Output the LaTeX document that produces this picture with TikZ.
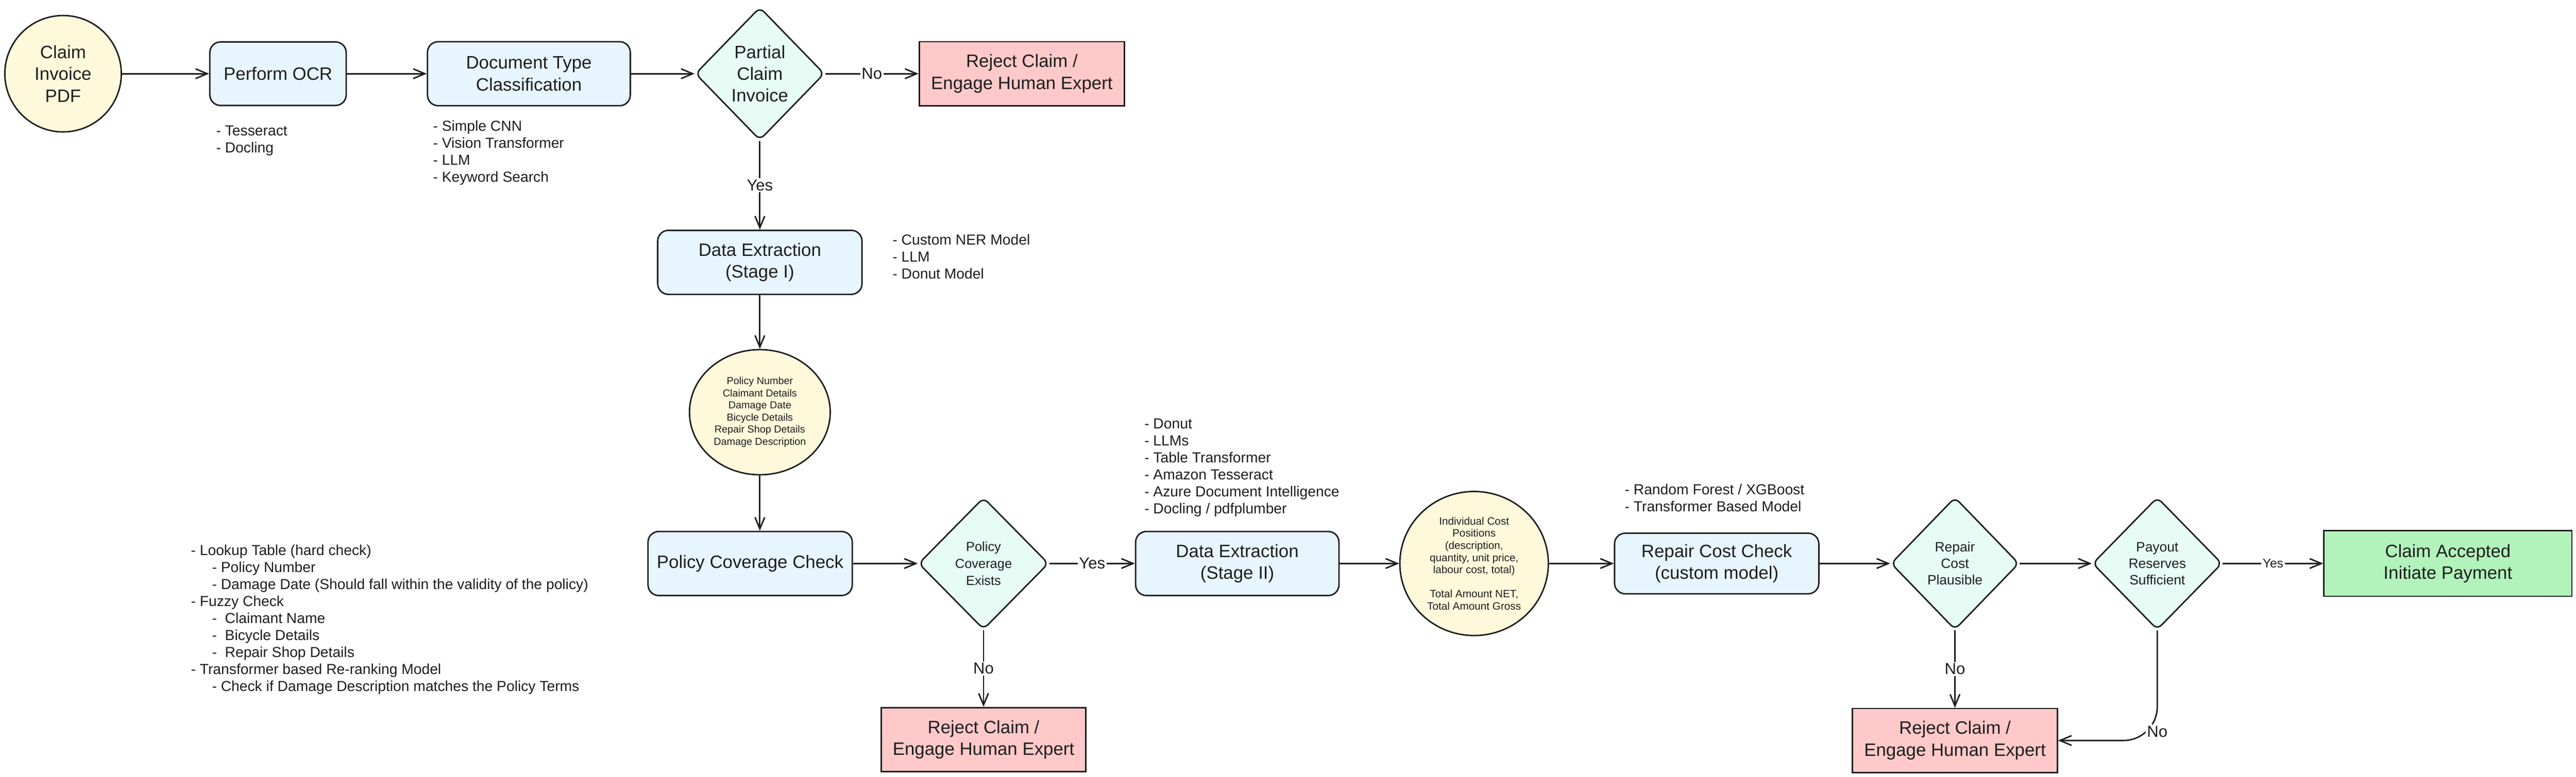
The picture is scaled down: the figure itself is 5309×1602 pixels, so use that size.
\documentclass[tikz,border=0pt]{standalone}
\usepackage{fontspec}
\setmainfont{Liberation Sans}
\usepackage{tikz}
\usetikzlibrary{arrows.meta,shapes.geometric}

\definecolor{ink}{HTML}{1E1E1E}
\definecolor{paper}{HTML}{FFF9DB}
\definecolor{boxblue}{HTML}{E7F5FF}
\definecolor{mint}{HTML}{E6FCF5}
\definecolor{rejectred}{HTML}{FFC9C9}
\definecolor{okgreen}{HTML}{B2F2BB}

\newcommand{\fsz}[2]{\fontsize{#1}{#2}\selectfont}

\begin{document}
\begin{tikzpicture}[->,>={Straight Barb[length=24pt,width=20pt]},x=1pt,y=-1pt,
 line width=3pt,color=ink,node distance=400pt]
 \tikzstyle{inputdoc}=[ellipse,draw,fill=paper,minimum width=240pt,minimum height=240pt,
   inner sep=0pt,align=center,font=\fsz{37}{45}]
 \tikzstyle{process}=[rectangle,rounded corners=22pt,draw,fill=boxblue,minimum width=421pt,
   minimum height=132pt,align=center,font=\fsz{37}{45}]
 \tikzstyle{decision}=[diamond,rounded corners=12pt,draw,fill=mint,minimum width=266pt,
   minimum height=274pt,inner sep=0pt,align=center,font=\fsz{37}{45}]
 \tikzstyle{reject}=[rectangle,draw,fill=rejectred,minimum width=422pt,minimum height=132pt,
   align=center,font=\fsz{37}{45}]
 \tikzstyle{accept}=[rectangle,draw,fill=okgreen,minimum width=511pt,minimum height=135pt,
   align=center,font=\fsz{37}{45}]
 \tikzstyle{datanode}=[ellipse,draw,fill=paper,inner sep=0pt,align=center]
 \tikzstyle{note}=[anchor=north west,inner sep=0pt,align=left,font=\fsz{30}{35}]
 \tikzstyle{yesno}=[fill=white,inner sep=3pt,font=\fsz{33}{40}]

 \fill[white,-] (0,0) rectangle (5309,1602);
 \useasboundingbox (0,0) rectangle (5309,1602);

 % top row
 \node[inputdoc]                                   (claim) at (130,152) {Claim\\Invoice\\PDF};
 \node[process,minimum width=281pt,minimum height=131pt] (ocr) [node distance=443pt,right of=claim] {Perform OCR};
 \node[process,minimum width=418pt]                (doctype) [node distance=517pt,right of=ocr] {Document Type\\Classification};
 \node[decision]                                   (partial) [node distance=476pt,right of=doctype] {Partial\\Claim\\Invoice};
 \node[reject,minimum width=423pt]                 (rejectA) [node distance=540pt,right of=partial] {Reject Claim /\\Engage Human Expert};

 % stage I
 \node[process]                                    (extractA) [node distance=389pt,below of=partial] {Data Extraction\\(Stage I)};
 \node[datanode,minimum width=290pt,minimum height=258pt,font=\fsz{21}{25}] (fields) [node distance=309pt,below of=extractA]
   {Policy Number\\Claimant Details\\Damage Date\\Bicycle Details\\Repair Shop Details\\Damage Description};

 % bottom row
 \node[process]                                    (coverage) [node distance=312pt,below of=fields,xshift=-20pt] {Policy Coverage Check};
 \node[decision,minimum width=268pt,minimum height=272pt,font=\fsz{27}{35}] (covered) [node distance=481pt,right of=coverage] {Policy\\Coverage\\Exists};
 \node[process,minimum width=419pt]                (extractB) [node distance=523pt,right of=covered] {Data Extraction\\(Stage II)};
 \node[datanode,minimum width=306pt,minimum height=297pt,font=\fsz{22}{25}] (costs) [node distance=488pt,right of=extractB]
   {Individual Cost\\Positions\\(description,\\quantity, unit price,\\labour cost, total)\\[25pt]Total Amount NET,\\Total Amount Gross};
 \node[process,minimum height=125pt]               (repair) [node distance=500pt,right of=costs] {Repair Cost Check\\(custom model)};
 \node[decision,minimum width=264pt,minimum height=273pt,font=\fsz{28}{34}] (plausible) [node distance=491pt,right of=repair] {Repair\\Cost\\Plausible};
 \node[decision,minimum width=267pt,minimum height=273pt,font=\fsz{28}{34}] (reserves) [node distance=417pt,right of=plausible] {Payout\\Reserves\\Sufficient};
 \node[accept]                                     (payment) [node distance=599pt,right of=reserves] {Claim Accepted\\Initiate Payment};
 \node[reject]                                     (rejectB) [node distance=363pt,below of=covered] {Reject Claim /\\Engage Human Expert};
 \node[reject]                                     (rejectC) [node distance=365pt,below of=plausible] {Reject Claim /\\Engage Human Expert};

 % tools per step
 \node[note] (ocrnotes) at (444,258) {- Tesseract\\- Docling};
 \node[note] (typenotes) at (891,247) {- Simple CNN\\- Vision Transformer\\- LLM\\- Keyword Search};
 \node[note] (extractnotes) at (1838,482) {- Custom NER Model\\- LLM\\- Donut Model};
 \node[note] (coveragenotes) at (392,1122) {- Lookup Table (hard check)\\
   \hspace*{1.45em}- Policy Number\\
   \hspace*{1.45em}- Damage Date (Should fall within the validity of the policy)\\
   - Fuzzy Check\\
   \hspace*{1.45em}-\ \ Claimant Name\\
   \hspace*{1.45em}-\ \ Bicycle Details\\
   \hspace*{1.45em}-\ \ Repair Shop Details\\
   - Transformer based Re-ranking Model\\
   \hspace*{1.45em}- Check if Damage Description matches the Policy Terms};
 \node[note] (tablenotes) at (2357,862) {- Donut\\- LLMs\\- Table Transformer\\- Amazon Tesseract\\- Azure Document Intelligence\\- Docling / pdfplumber};
 \node[note] (modelnotes) at (3347,997) {- Random Forest / XGBoost\\- Transformer Based Model};

 \path (claim) edge (ocr)
       (ocr) edge (doctype)
       (doctype) edge (partial)
       (partial) edge node[yesno] {No} (rejectA)
       (partial) edge node[yesno] {Yes} (extractA)
       (extractA) edge (fields)
       (fields) edge (fields |- coverage.north)
       (coverage) edge (covered)
       (covered) edge node[yesno] {Yes} (extractB)
       (covered) edge node[yesno] {No} (rejectB)
       (extractB) edge (costs)
       (costs) edge (repair)
       (repair) edge (plausible)
       (plausible) edge (reserves)
       (plausible) edge node[yesno] {No} (rejectC)
       (reserves) edge node[yesno,font=\fsz{26}{30}] {Yes} (payment);
 \draw[rounded corners=70pt] (reserves) |- node[yesno,pos=0.46] {No} (rejectC);
\end{tikzpicture}
\end{document}
